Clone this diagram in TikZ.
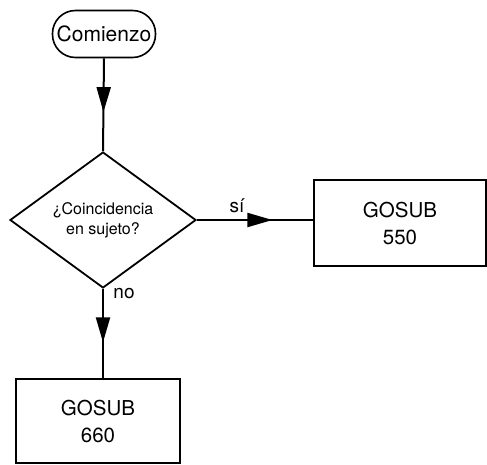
\documentclass[tikz,border=0pt]{standalone}
\usepackage{fontspec}
\setmainfont{TeX Gyre Heros}
\usetikzlibrary{shapes.geometric,arrows.meta,decorations.markings}

\tikzset{
  flowline/.style={line width=2pt},
  midarrow/.style={postaction={decorate},decoration={markings,
      mark=at position #1 with {\arrow{Triangle[length=25pt,width=14pt]}}}},
  startbox/.style={draw,line width=1.6pt,rounded corners=23pt,minimum width=103pt,
      minimum height=47pt,inner sep=0pt,font=\fontsize{21}{24}\selectfont},
  testbox/.style={draw,diamond,line width=1.8pt,minimum width=186pt,minimum height=92pt,
      inner sep=0pt,align=center,font=\fontsize{16}{20}\selectfont},
  gosubbox/.style={draw,line width=1.8pt,inner sep=0pt,align=center,
      font=\fontsize{20.5}{27}\selectfont},
  lbl/.style={font=\fontsize{19}{22}\selectfont}
}

\begin{document}
\begin{tikzpicture}[x=1pt,y=1pt]
	\useasboundingbox (0,0) rectangle (487,-465); % page size
	\node[startbox] (comienzo) at (104,-34) {Comienzo};
	\node[testbox] (test) at (103,-220) {¿Coincidencia\\en sujeto?};
	\node[gosubbox,minimum width=172pt,minimum height=86pt] (g550) at (400,-223) {GOSUB\\550};
	\node[gosubbox,minimum width=164pt,minimum height=84pt] (g660) at (98,-421) {GOSUB\\660};
	% connectors
	\draw[flowline,midarrow=0.58] (comienzo.south) -- (test.north);
	\draw[flowline,midarrow=0.65] (test.east) -- (test.east -| g550.west);
	\draw[flowline,midarrow=0.6] (test.south) -- (test.south |- g660.north);
	\node[lbl] (si) at (237,-206) {sí};
	\node[lbl] (no) at (124,-294) {no};
\end{tikzpicture}
\end{document}
